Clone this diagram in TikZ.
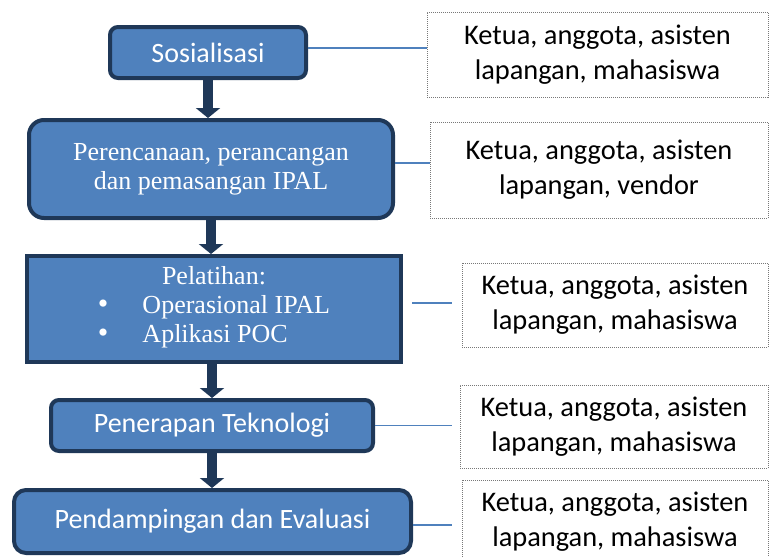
\documentclass[tikz,border=0pt]{standalone}
\usepackage{fontspec}
\usetikzlibrary{arrows.meta}
\newfontfamily\calibri{Carlito}
\newfontfamily\romanfont{Liberation Serif}
\definecolor{boxblue}{RGB}{79,129,189}
\definecolor{boxedge}{RGB}{31,56,88}
\definecolor{dotgray}{RGB}{120,120,120}
\newcommand{\bigdot}{{\fontsize{30}{27}\selectfont\textbullet}}

\begin{document}
\begin{tikzpicture}[x=1pt,y=-1pt,
    stage/.style={draw=boxedge,fill=boxblue,line width=4pt,rounded corners=8pt,
        text=white,inner sep=0pt,align=center,font=\calibri\fontsize{28}{35}\selectfont},
    serifstage/.style={stage,font=\romanfont\fontsize{26}{29}\selectfont},
    team/.style={draw=dotgray,line width=1pt,dash pattern=on 1pt off 1pt,
        inner sep=0pt,align=center,font=\calibri\fontsize{28.4}{35}\selectfont},
    flow/.style={draw=boxedge,line width=10pt,-{Triangle[width=24pt,length=10pt]}},
    link/.style={draw=boxblue,line width=1.5pt}]
    \useasboundingbox (0,0) rectangle (769,557);
    \clip (0,0) rectangle (769,557);
    \node [stage,minimum width=196pt,minimum height=51pt] (soc) at (208,52.5) {Sosialisasi};
    \node [serifstage,rounded corners=15pt,minimum width=364pt,minimum height=98pt] (per) at (211,169)
        {Perencanaan, perancangan\\dan pemasangan IPAL};
    \node [serifstage,sharp corners,minimum width=374pt,minimum height=106pt] (pel) at (214,309)
        {\fontsize{26}{28}\selectfont Pelatihan:\\
        \begin{tabular}[t]{@{}l@{\hspace{34pt}}l@{}}
            \bigdot & Operasional IPAL\\
            \bigdot & Aplikasi POC
        \end{tabular}};
    \node [stage,minimum width=322pt,minimum height=51pt] (pen) at (212,425.5) {Penerapan Teknologi};
    \node [stage,rounded corners=12pt,minimum width=397pt,minimum height=63pt] (eva) at (212.5,521.5)
        {Pendampingan dan Evaluasi};
    \node [team,minimum width=341pt,minimum height=85pt] (ket1) at (597.5,54.5) {Ketua, anggota, asisten\\lapangan, mahasiswa};
    \node [team,minimum width=338pt,minimum height=96pt] (ket2) at (599,170) {Ketua, anggota, asisten\\lapangan, vendor};
    \node [team,minimum width=306pt,minimum height=84pt] (ket3) at (615,305) {Ketua, anggota, asisten\\lapangan, mahasiswa};
    \node [team,minimum width=308pt,minimum height=83pt] (ket4) at (614,426.5) {Ketua, anggota, asisten\\lapangan, mahasiswa};
    \node [team,minimum width=306pt,minimum height=84pt] (ket5) at (615,522) {Ketua, anggota, asisten\\lapangan, mahasiswa};
    \draw [flow] (soc.south) -- (soc.south |- per.north);
    \draw [flow] (per.south) -- (per.south |- pel.north);
    \draw [flow] (pen.north |- pel.south) -- (pen.north);
    \draw [flow] (pen.south) -- (pen.south |- eva.north);
    \draw [link] (soc.east |- 0,48) -- (ket1.west |- 0,48);
    \draw [link] (per.east |- 0,163) -- (ket2.west |- 0,163);
    \draw [link,shorten <=9pt,shorten >=10pt] (pel.east |- 0,303) -- (ket3.west |- 0,303);
    \draw [link,shorten >=8pt] (pen.east) -- (ket4.west |- pen.east);
    \draw [link,shorten >=10pt] (eva.east |- 0,525) -- (ket5.west |- 0,525);
\end{tikzpicture}
\end{document}
